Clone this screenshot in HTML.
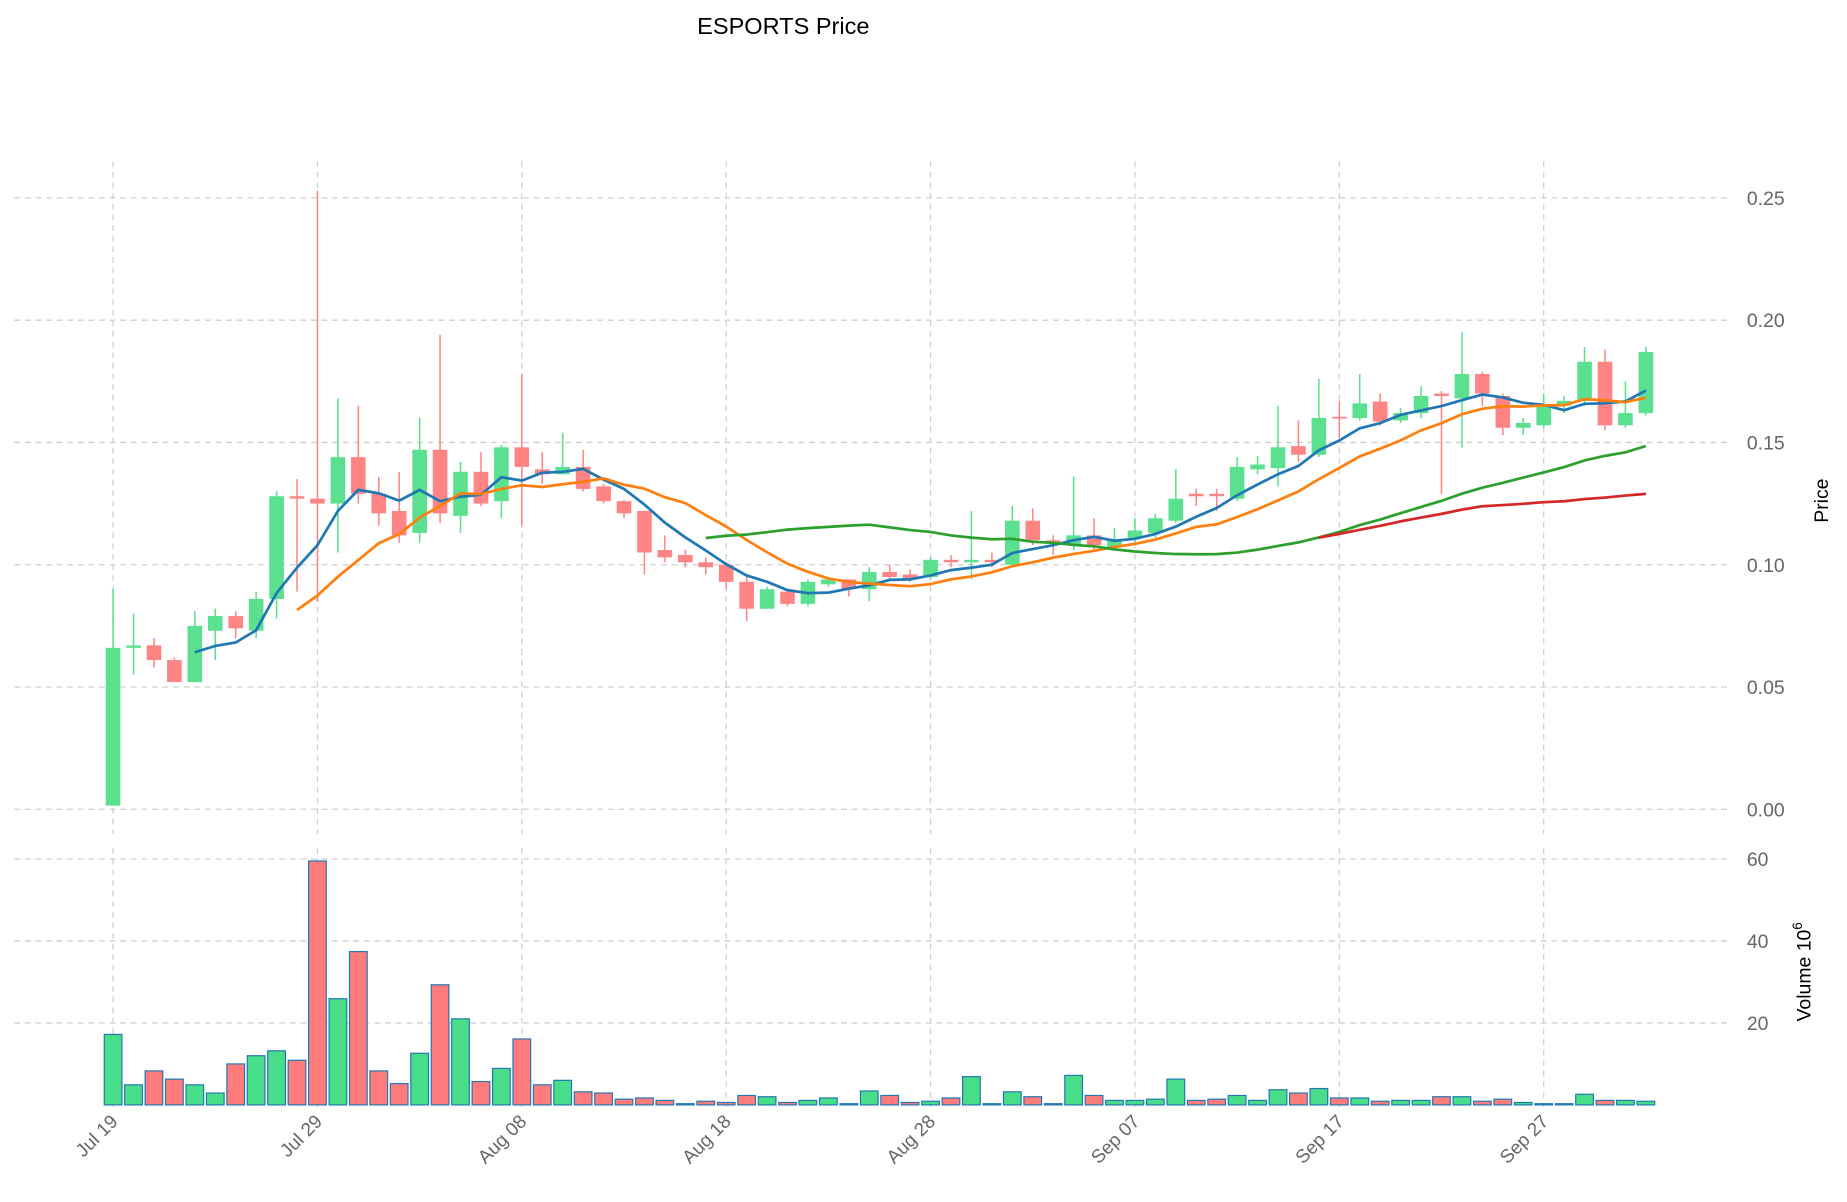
<!DOCTYPE html>
<html><head><meta charset="utf-8"><style>
html,body{margin:0;padding:0;background:#fff;}
svg{display:block;font-family:"Liberation Sans","DejaVu Sans",sans-serif;}
</style></head><body>
<svg id="chart" width="1847" height="1202" viewBox="0 0 1568 1020.4" xmlns="http://www.w3.org/2000/svg">
<text x="665" y="29" font-size="20" text-anchor="middle" fill="#000">ESPORTS Price</text>
<g id="grid"></g><g id="vol"></g><g id="candles"></g><g id="mas"></g><g id="axes"></g>
<text transform="translate(1552,425) rotate(-90)" font-size="16.5" text-anchor="middle" fill="#000">Price</text>
<text transform="translate(1537,825) rotate(-90)" font-size="16.5" text-anchor="middle" fill="#000">Volume  10<tspan dy="-7" font-size="11.5">6</tspan></text>
</svg>
<script>
const opens  = [0.0015,0.066,0.067,0.061,0.052,0.073,0.079,0.073,0.086,0.128,0.127,0.125,0.144,0.129,0.122,0.113,0.147,0.120,0.138,0.126,0.148,0.139,0.137,0.140,0.132,0.126,0.122,0.106,0.104,0.101,0.100,0.093,0.082,0.089,0.084,0.092,0.094,0.090,0.097,0.096,0.095,0.102,0.101,0.102,0.100,0.118,0.110,0.108,0.112,0.107,0.111,0.113,0.118,0.129,0.129,0.127,0.139,0.1395,0.1485,0.145,0.1605,0.160,0.1667,0.159,0.162,0.170,0.168,0.178,0.169,0.156,0.157,0.165,0.167,0.183,0.157,0.162];
const highs  = [0.090,0.080,0.070,0.062,0.081,0.082,0.081,0.089,0.130,0.135,0.253,0.168,0.165,0.136,0.138,0.160,0.194,0.142,0.146,0.149,0.178,0.146,0.154,0.147,0.133,0.1265,0.122,0.112,0.106,0.103,0.101,0.096,0.091,0.090,0.094,0.095,0.094,0.099,0.100,0.098,0.103,0.104,0.122,0.105,0.124,0.123,0.112,0.136,0.119,0.115,0.119,0.121,0.139,0.131,0.131,0.144,0.1445,0.165,0.159,0.176,0.167,0.178,0.170,0.164,0.173,0.171,0.195,0.179,0.170,0.160,0.170,0.169,0.189,0.188,0.175,0.189];
const lows   = [0.0015,0.055,0.058,0.052,0.052,0.061,0.070,0.070,0.078,0.089,0.085,0.105,0.125,0.116,0.109,0.109,0.117,0.113,0.124,0.119,0.116,0.133,0.137,0.130,0.125,0.119,0.096,0.101,0.099,0.096,0.090,0.077,0.082,0.083,0.083,0.091,0.087,0.085,0.094,0.093,0.094,0.099,0.094,0.099,0.099,0.108,0.104,0.106,0.106,0.106,0.109,0.111,0.117,0.124,0.122,0.126,0.137,0.132,0.142,0.144,0.152,0.159,0.157,0.158,0.160,0.129,0.148,0.165,0.153,0.153,0.156,0.162,0.165,0.155,0.156,0.161];
const closes = [0.066,0.067,0.061,0.052,0.075,0.079,0.074,0.086,0.128,0.127,0.125,0.144,0.129,0.121,0.112,0.147,0.121,0.138,0.125,0.148,0.140,0.137,0.140,0.131,0.126,0.121,0.105,0.103,0.101,0.099,0.093,0.082,0.090,0.084,0.093,0.094,0.090,0.097,0.095,0.094,0.102,0.101,0.102,0.101,0.118,0.110,0.109,0.112,0.108,0.110,0.114,0.119,0.127,0.128,0.128,0.140,0.141,0.148,0.145,0.160,0.160,0.166,0.1585,0.162,0.169,0.169,0.178,0.170,0.156,0.158,0.165,0.167,0.183,0.157,0.162,0.187];
const volumes = [17.2,4.9,8.3,6.3,4.9,2.9,10,12,13.2,10.9,59.5,25.9,37.4,8.3,5.2,12.6,29.3,21,5.7,8.9,16.1,4.9,6,3.2,2.9,1.4,1.7,1.1,0.3,0.9,0.6,2.3,2,0.6,1.1,1.7,0.3,3.4,2.3,0.6,0.9,1.7,6.9,0.3,3.2,2,0.3,7.2,2.3,1.1,1.1,1.4,6.3,1.1,1.4,2.3,1.1,3.7,2.9,4,1.7,1.7,0.9,1.1,1.1,2,2,0.9,1.4,0.6,0.3,0.3,2.6,1.1,1.1,0.9];
const dateLabels = ["Jul 19","Jul 29","Aug 08","Aug 18","Aug 28","Sep 07","Sep 17","Sep 27"];
const dateTickIdx = [0,10,20,30,40,50,60,70];
const priceTicks = [0,0.05,0.10,0.15,0.20,0.25];
const priceTickLabels = ["0.00","0.05","0.10","0.15","0.20","0.25"];
const volTicks = [20,40,60];
const maPeriods = [5,10,30,60];
const maColors = ["#1f77b4","#ff7f0e","#2ca02c","#d62728"];

const NS="http://www.w3.org/2000/svg";
function mk(tag,attrs,parent){const e=document.createElementNS(NS,tag);for(const k in attrs)e.setAttribute(k,attrs[k]);parent.appendChild(e);return e;}
const xOf=i=>96+17.35*i;
const yP=p=>687-p*2076;
const yV=v=>938-v*3.48;
const L=12,R=1470;
const grid=document.getElementById('grid'),vol=document.getElementById('vol'),cg=document.getElementById('candles'),mg=document.getElementById('mas'),ax=document.getElementById('axes');
const gs={stroke:"#d0d0d0","stroke-width":1.1,"stroke-dasharray":"5,4",fill:"none"};
priceTicks.forEach((t,k)=>{
  const l=mk('line',Object.assign({x1:L,x2:R,y1:yP(t),y2:yP(t)},gs),grid);
  
  
  const tx=mk('text',{x:1483,y:yP(t)+6,"font-size":16.5,fill:"#666"},ax);
  tx.textContent=priceTickLabels[k];
  
  
});
volTicks.forEach(t=>{
  const l=mk('line',Object.assign({x1:L,x2:R,y1:yV(t),y2:yV(t)},gs),grid);
  
  
  const tx=mk('text',{x:1483,y:yV(t)+6,"font-size":16.5,fill:"#666"},ax);
  tx.textContent=String(t);
  
  
});
dateTickIdx.forEach((d,k)=>{
  const x=xOf(d);
  const l1=mk('line',Object.assign({x1:x,x2:x,y1:137,y2:708},gs),grid);
  
  
  const l2=mk('line',Object.assign({x1:x,x2:x,y1:720,y2:940},gs),grid);
  
  
  const tx=mk('text',{x:x+5,y:953,"font-size":16,fill:"#666","text-anchor":"end",transform:`rotate(-45 ${x+5} 953)`},ax);
  tx.textContent=dateLabels[k];
  
  
});
const G="#5ae08f",Rd="#ff8585";
closes.forEach((c,i)=>{
  const o=opens[i],up=c>=o,col=up?G:Rd,x=xOf(i);
  const w=mk('line',{x1:x,x2:x,y1:yP(highs[i]),y2:yP(lows[i]),stroke:col,"stroke-width":1.3},cg);
  
  
  const top=yP(Math.max(o,c)),bot=yP(Math.min(o,c));
  const b=mk('rect',{x:x-6.2,y:top,width:12.4,height:Math.max(bot-top,1.5),fill:col},cg);
  
  
  const vb=mk('rect',{x:x-7.5,y:yV(volumes[i]),width:15,height:938-yV(volumes[i]),fill:up?"#48dd88":"#ff7c7c",stroke:"#1f77b4","stroke-width":1},vol);
  
  
});
maPeriods.forEach((n,k)=>{
  const pts=[];
  for(let i=n-1;i<closes.length;i++){let s=0;for(let j=i-n+1;j<=i;j++)s+=closes[j];pts.push(xOf(i)+','+yP(s/n));}
  const pl=mk('polyline',{points:pts.join(' '),fill:"none",stroke:maColors[k],"stroke-width":2.3},mg);
  
  
});
</script>
</body></html>
